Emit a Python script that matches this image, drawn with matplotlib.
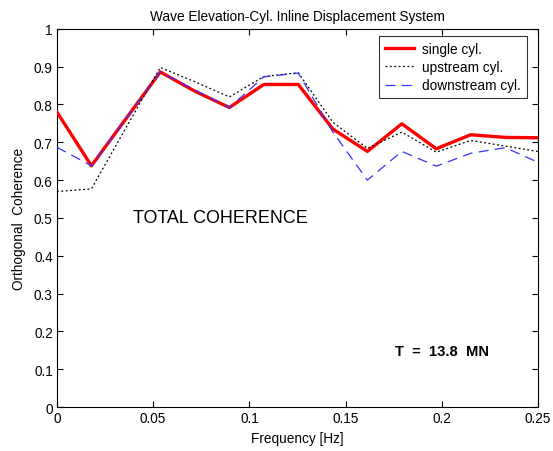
import matplotlib
matplotlib.use("Agg")
import matplotlib.pyplot as plt

plt.rcParams['font.family'] = ['Liberation Sans', 'DejaVu Sans']

freq = [0.0, 0.0179, 0.0358, 0.0537, 0.0717, 0.0896, 0.1075, 0.1254,
        0.1434, 0.1613, 0.1792, 0.1971, 0.2150, 0.2330, 0.2509]
single = [0.780, 0.638, 0.762, 0.886, 0.835, 0.792, 0.853, 0.853,
          0.735, 0.676, 0.749, 0.683, 0.720, 0.713, 0.712]
upstream = [0.570, 0.577, 0.738, 0.898, 0.860, 0.820, 0.874, 0.884,
            0.753, 0.684, 0.727, 0.674, 0.705, 0.690, 0.675]
downstream = [0.687, 0.638, 0.762, 0.886, 0.838, 0.792, 0.873, 0.883,
              0.727, 0.600, 0.676, 0.637, 0.671, 0.686, 0.645]

xticks = [0, 0.05, 0.1, 0.15, 0.2, 0.25]
xticklabels = ['0', '0.05', '0.1', '0.15', '0.2', '0.25']
yticks = [0, 0.1, 0.2, 0.3, 0.4, 0.5, 0.6, 0.7, 0.8, 0.9, 1]
yticklabels = ['0', '0.1', '0.2', '0.3', '0.4', '0.5', '0.6', '0.7', '0.8', '0.9', '1']

FS = 9.8

fig = plt.figure(figsize=(5.53, 4.52), dpi=100)
ax = fig.add_axes([0.103, 0.097, 0.870, 0.837])

ax.plot(freq, single, color='#ff0000', lw=2.4, label='single cyl.', zorder=3)
ax.plot(freq, upstream, color='black', lw=0.9, ls=(0, (1.5, 2)), label='upstream cyl.', zorder=4)
ax.plot(freq, downstream, color='#3333ff', lw=0.9, ls=(0, (8, 5)), label='downstream cyl.', zorder=5)

ax.set_xlim(0, 0.25)
ax.set_ylim(0, 1)
ax.set_xticks(xticks)
ax.set_xticklabels(xticklabels)
ax.set_yticks(yticks)
ax.set_yticklabels(yticklabels)
ax.tick_params(direction='in', top=True, right=True, length=4, width=0.8,
               labelsize=FS, pad=3)
for s in ax.spines.values():
    s.set_linewidth(0.8)

ax.set_title('Wave Elevation-Cyl. Inline Displacement System', fontsize=FS, pad=6)
ax.set_xlabel('Frequency [Hz]', fontsize=FS, labelpad=4)
ax.set_ylabel('Orthogonal  Coherence', fontsize=FS, labelpad=6)

ax.text(0.0395, 0.500, 'TOTAL COHERENCE', fontsize=12.9, va='center', ha='left')
ax.text(0.1755, 0.149, 'T  =  13.8  MN', fontsize=10.6, fontweight='bold',
        va='center', ha='left')

leg = ax.legend(loc='upper right', bbox_to_anchor=(0.977, 0.981), fontsize=FS,
                frameon=True, fancybox=False, edgecolor='black', borderaxespad=0.0,
                handlelength=2.1, handletextpad=0.6, borderpad=0.45,
                labelspacing=0.3)
leg.get_frame().set_linewidth(0.8)

fig.savefig('out.png', dpi=100)
